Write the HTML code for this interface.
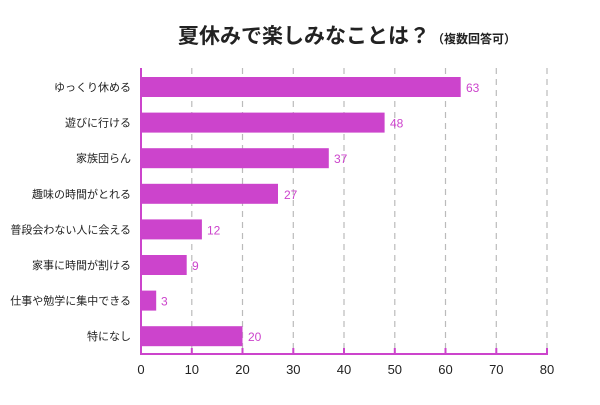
<!DOCTYPE html>
<html><head><meta charset="utf-8"><style>body{margin:0;background:#fff}</style></head><body>
<svg width="600" height="400" xmlns="http://www.w3.org/2000/svg" font-family="Liberation Sans, Noto Sans CJK JP, sans-serif">
<rect width="600" height="400" fill="#fff"/>
<text x="178" y="43" font-size="21" font-weight="bold" fill="#222">夏休みで楽しみなことは？<tspan font-size="12" dx="2">（複数回答可）</tspan></text>
<g stroke="#bbb" stroke-width="1.2" stroke-dasharray="6,5">
<line x1="191.8" y1="68" x2="191.8" y2="354"/><line x1="242.5" y1="68" x2="242.5" y2="354"/><line x1="293.3" y1="68" x2="293.3" y2="354"/><line x1="344" y1="68" x2="344" y2="354"/><line x1="394.8" y1="68" x2="394.8" y2="354"/><line x1="445.5" y1="68" x2="445.5" y2="354"/><line x1="496.3" y1="68" x2="496.3" y2="354"/><line x1="547" y1="68" x2="547" y2="354"/>
</g>
<g fill="#cc44cc">
<rect x="141" y="77" width="319.7" height="20"/>
<rect x="141" y="112.6" width="243.6" height="20"/>
<rect x="141" y="148.2" width="187.8" height="20"/>
<rect x="141" y="183.8" width="137" height="20"/>
<rect x="141" y="219.4" width="60.9" height="20"/>
<rect x="141" y="255" width="45.7" height="20"/>
<rect x="141" y="290.6" width="15.2" height="20"/>
<rect x="141" y="326.2" width="101.5" height="20"/>
</g>
<g stroke="#cc44cc" stroke-width="2">
<line x1="141" y1="68" x2="141" y2="355"/><line x1="140" y1="354" x2="548" y2="354"/>
<path d="M191.8 348V354M242.5 348V354M293.3 348V354M344 348V354M394.8 348V354M445.5 348V354M496.3 348V354M547 348V354"/>
</g>
<g fill="#cc44cc" font-size="12">
<text x="466" y="92">63</text><text x="390" y="127.6">48</text><text x="334" y="163.2">37</text><text x="284" y="198.8">27</text><text x="207" y="234.4">12</text><text x="192" y="270">9</text><text x="161" y="305.6">3</text><text x="248" y="341.2">20</text>
</g>
<g fill="#222" font-size="11" text-anchor="end">
<text x="131" y="91">ゆっくり休める</text><text x="131" y="126.6">遊びに行ける</text><text x="131" y="162.2">家族団らん</text><text x="131" y="197.8">趣味の時間がとれる</text><text x="131" y="233.4">普段会わない人に会える</text><text x="131" y="269">家事に時間が割ける</text><text x="131" y="304.6">仕事や勉学に集中できる</text><text x="131" y="340.2">特になし</text>
</g>
<g fill="#222" font-size="13" text-anchor="middle">
<text x="141" y="374">0</text><text x="191.8" y="374">10</text><text x="242.5" y="374">20</text><text x="293.3" y="374">30</text><text x="344" y="374">40</text><text x="394.8" y="374">50</text><text x="445.5" y="374">60</text><text x="496.3" y="374">70</text><text x="547" y="374">80</text>
</g>
</svg>
</body></html>
